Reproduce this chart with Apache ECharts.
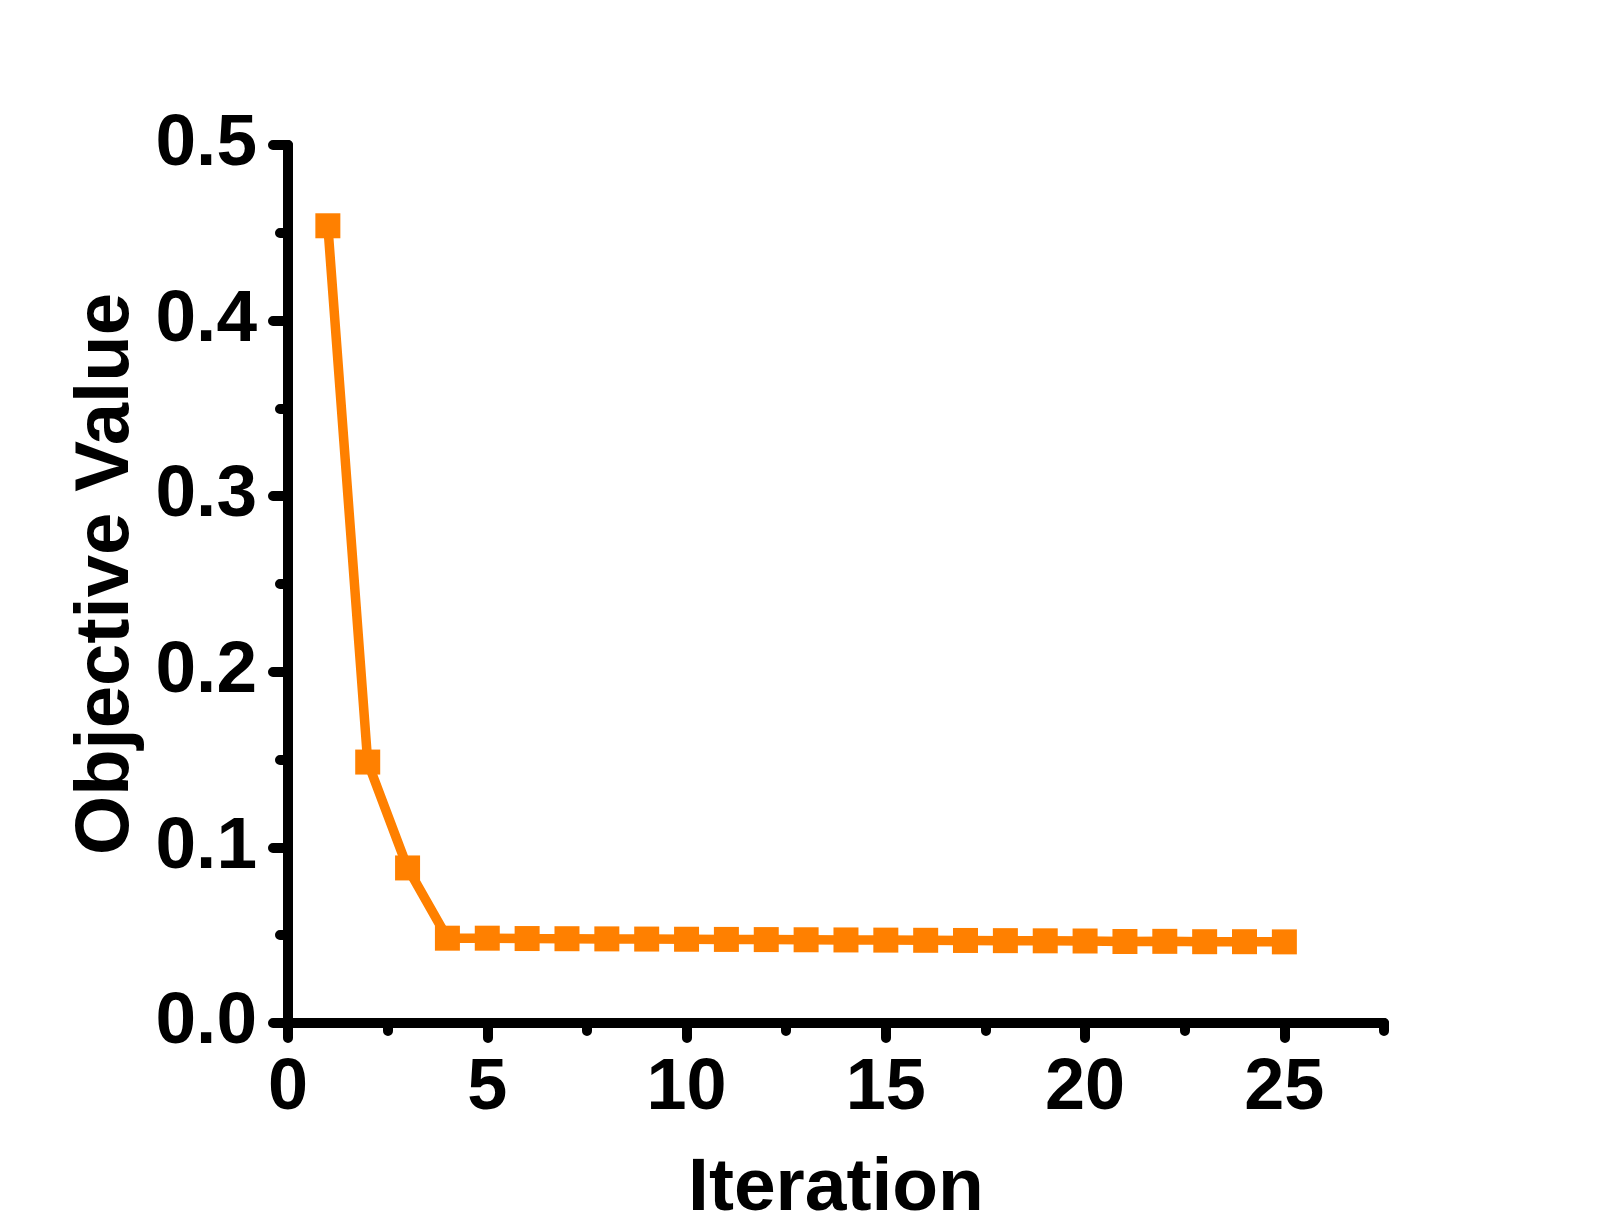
<!DOCTYPE html>
<html>
<head>
<meta charset="utf-8">
<script src="https://cdn.jsdelivr.net/npm/echarts@6/dist/echarts.min.js"></script>
<style>
  html, body { margin: 0; padding: 0; background: #fff; }
  #chart { width: 1609px; height: 1232px; }
</style>
</head>
<body>
<div id="chart"></div>
<script>
// iteration number and objective value at each step
const iterations = [1, 2, 3, 4, 5, 6, 7, 8, 9, 10, 11, 12, 13, 14, 15, 16, 17, 18, 19, 20, 21, 22, 23, 24, 25];
const objective = [0.454, 0.1486, 0.0883, 0.0483, 0.0483, 0.0481, 0.048, 0.0479, 0.0478, 0.0477, 0.0476, 0.0475, 0.0474,
    0.0473, 0.0472, 0.0471, 0.047, 0.0469, 0.0468, 0.0467, 0.0464, 0.0465, 0.0463, 0.0463, 0.0462];
const xMajorTicks = [0, 5, 10, 15, 20, 25];
const xMinorTicks = [2.5, 7.5, 12.5, 17.5, 22.5, 27.5];

const font = "'Liberation Sans', Arial, sans-serif";
const axisBlack = '#000';

let chart = echarts.init(document.getElementById('chart'));
chart.setOption({
    animation: false,
    grid: {
        left: 288,
        right: 225,
        top: 145,
        bottom: 205
    },
    xAxis: [
        {
            type: 'value',
            min: 0,
            max: 27.5,
            name: 'Iteration',
            nameLocation: 'middle',
            nameGap: 129,
            nameTextStyle: { fontFamily: font, fontWeight: 'bold', fontSize: 75, color: axisBlack },
            axisLine: { lineStyle: { color: axisBlack, width: 10, cap: 'round' } },
            axisTick: {
                customValues: xMajorTicks,
                length: 15,
                lineStyle: { color: axisBlack, width: 10, cap: 'round' }
            },
            axisLabel: {
                customValues: xMajorTicks,
                margin: 30,
                fontFamily: font,
                fontWeight: 'bold',
                fontSize: 72,
                color: axisBlack
            },
            splitLine: { show: false }
        },
        {
            // short ticks halfway between the labelled ones
            type: 'value',
            min: 0,
            max: 27.5,
            position: 'bottom',
            axisLine: { show: false },
            axisTick: {
                customValues: xMinorTicks,
                length: 8,
                lineStyle: { color: axisBlack, width: 10, cap: 'round' }
            },
            axisLabel: { show: false },
            splitLine: { show: false }
        }
    ],
    yAxis: {
        type: 'value',
        min: 0,
        max: 0.5,
        interval: 0.1,
        name: 'Objective Value',
        nameLocation: 'middle',
        nameGap: 140,
        nameTextStyle: {
            fontFamily: font, fontWeight: 'bold', fontSize: 76, color: axisBlack,
            padding: [0, 0, 0, 20]
        },
        axisLine: { show: true, lineStyle: { color: axisBlack, width: 10, cap: 'round' } },
        axisTick: {
            show: true,
            length: 15,
            lineStyle: { color: axisBlack, width: 10, cap: 'round' }
        },
        minorTick: {
            show: true,
            splitNumber: 2,
            length: 8,
            lineStyle: { color: axisBlack, width: 10, cap: 'round' }
        },
        axisLabel: {
            margin: 31,
            formatter: v => v.toFixed(1),
            fontFamily: font,
            fontWeight: 'bold',
            fontSize: 73,
            color: axisBlack
        },
        splitLine: { show: false }
    },
    series: [{
        type: 'line',
        xAxisIndex: 0,
        data: iterations.map((x, i) => [x, objective[i]]),
        symbol: 'rect',
        symbolSize: 25,
        lineStyle: { color: '#ff8000', width: 9.5 },
        itemStyle: { color: '#ff8000' }
    }]
});
</script>
</body>
</html>
